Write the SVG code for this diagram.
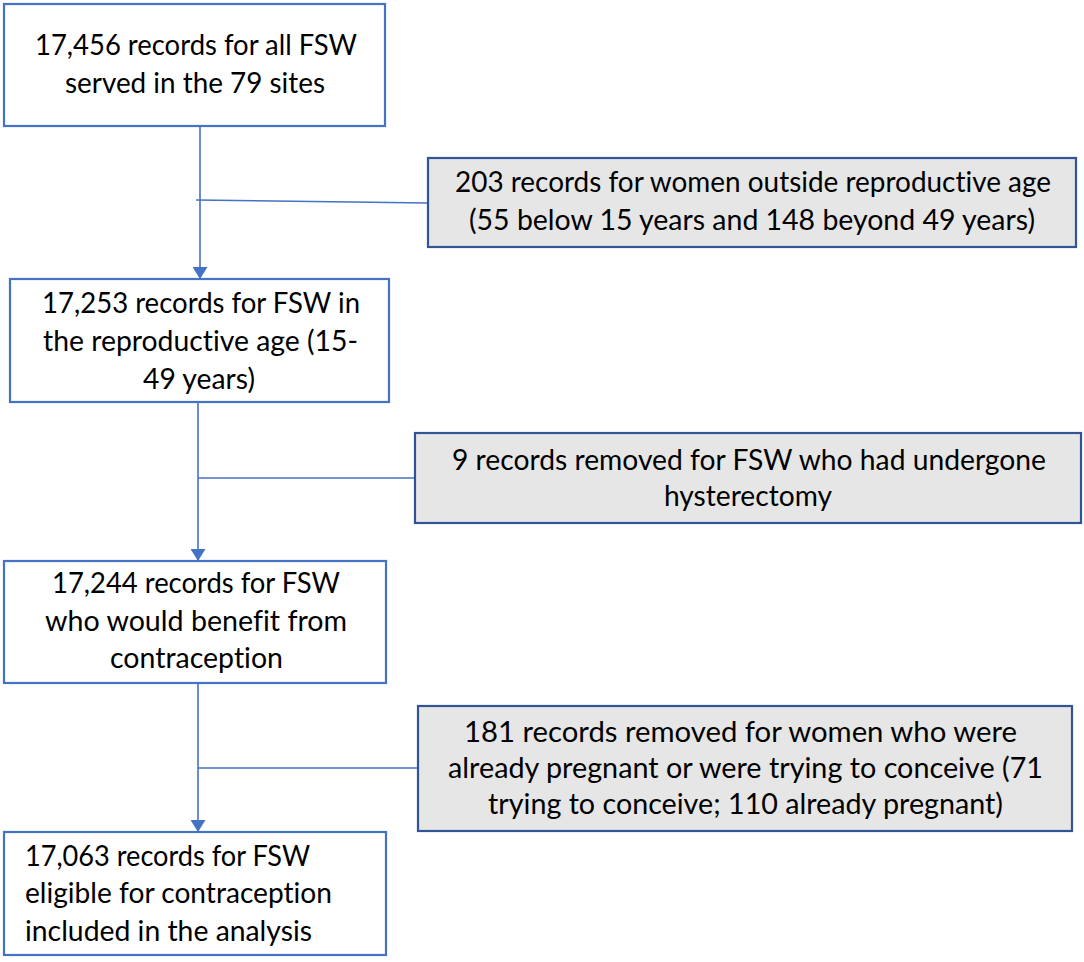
<svg xmlns="http://www.w3.org/2000/svg" width="1084" height="962" viewBox="0 0 1084 962">
<style>
.main{fill:#ffffff;stroke:#4472C4;stroke-width:2.2}
.side{fill:#E7E6E6;stroke:#2F5597;stroke-width:2.2}
.t{font-family:Lato,"Open Sans","Liberation Sans",sans-serif;font-size:29px;fill:#000000;font-variant-ligatures:none}
.conn{stroke:#4472C4;stroke-width:1.6;fill:none}
</style>
<defs>
<marker id="arr" markerUnits="userSpaceOnUse" markerWidth="13" markerHeight="15" refX="12" refY="7.5" orient="auto">
<path d="M0,0 L12,7.5 L0,15 z" fill="#4472C4"/>
</marker>
</defs>
<rect width="1084" height="962" fill="#ffffff"/>
<g id="connectors">
<line class="conn" x1="200" y1="126" x2="200" y2="279" marker-end="url(#arr)"/>
<line class="conn" x1="196" y1="200" x2="428" y2="203"/>
<line class="conn" x1="198" y1="402" x2="198" y2="561" marker-end="url(#arr)"/>
<line class="conn" x1="198" y1="478" x2="415" y2="478"/>
<line class="conn" x1="198" y1="683" x2="198" y2="832" marker-end="url(#arr)"/>
<line class="conn" x1="198" y1="768" x2="418" y2="768"/>
</g>
<g id="box1">
<rect class="main" x="4" y="4" width="381" height="122"/>
<text class="t" x="35" y="55" textLength="322" lengthAdjust="spacingAndGlyphs">17,456 records for all FSW</text>
<text class="t" x="65" y="93" textLength="260" lengthAdjust="spacingAndGlyphs">served in the 79 sites</text>
</g>
<g id="side1">
<rect class="side" x="428" y="158" width="648" height="89"/>
<text class="t" x="455" y="192" textLength="596" lengthAdjust="spacingAndGlyphs">203 records for women outside reproductive age</text>
<text class="t" x="469" y="230" textLength="566" lengthAdjust="spacingAndGlyphs">(55 below 15 years and 148 beyond 49 years)</text>
</g>
<g id="box2">
<rect class="main" x="10" y="279" width="379" height="123"/>
<text class="t" x="42" y="313" textLength="318" lengthAdjust="spacingAndGlyphs">17,253 records for FSW in</text>
<text class="t" x="43" y="351" textLength="315" lengthAdjust="spacingAndGlyphs">the reproductive age (15-</text>
<text class="t" x="143" y="389" textLength="112" lengthAdjust="spacingAndGlyphs">49 years)</text>
</g>
<g id="side2">
<rect class="side" x="415" y="433" width="666" height="90"/>
<text class="t" x="452" y="470" textLength="594" lengthAdjust="spacingAndGlyphs">9 records removed for FSW who had undergone</text>
<text class="t" x="664" y="506" textLength="168" lengthAdjust="spacingAndGlyphs">hysterectomy</text>
</g>
<g id="box3">
<rect class="main" x="4" y="561" width="382" height="122"/>
<text class="t" x="52" y="593" textLength="288" lengthAdjust="spacingAndGlyphs">17,244 records for FSW</text>
<text class="t" x="45" y="631" textLength="302" lengthAdjust="spacingAndGlyphs">who would benefit from</text>
<text class="t" x="110" y="668" textLength="173" lengthAdjust="spacingAndGlyphs">contraception</text>
</g>
<g id="side3">
<rect class="side" x="418" y="706" width="654" height="125"/>
<text class="t" x="464" y="742" textLength="553" lengthAdjust="spacingAndGlyphs">181 records removed for women who were</text>
<text class="t" x="448" y="778" textLength="595" lengthAdjust="spacingAndGlyphs">already pregnant or were trying to conceive (71</text>
<text class="t" x="488" y="814" textLength="515" lengthAdjust="spacingAndGlyphs">trying to conceive; 110 already pregnant)</text>
</g>
<g id="box4">
<rect class="main" x="4" y="832" width="382" height="123"/>
<text class="t" x="25" y="866" textLength="285" lengthAdjust="spacingAndGlyphs">17,063 records for FSW</text>
<text class="t" x="25" y="903" textLength="307" lengthAdjust="spacingAndGlyphs">eligible for contraception</text>
<text class="t" x="25" y="941" textLength="287" lengthAdjust="spacingAndGlyphs">included in the analysis</text>
</g>
</svg>
